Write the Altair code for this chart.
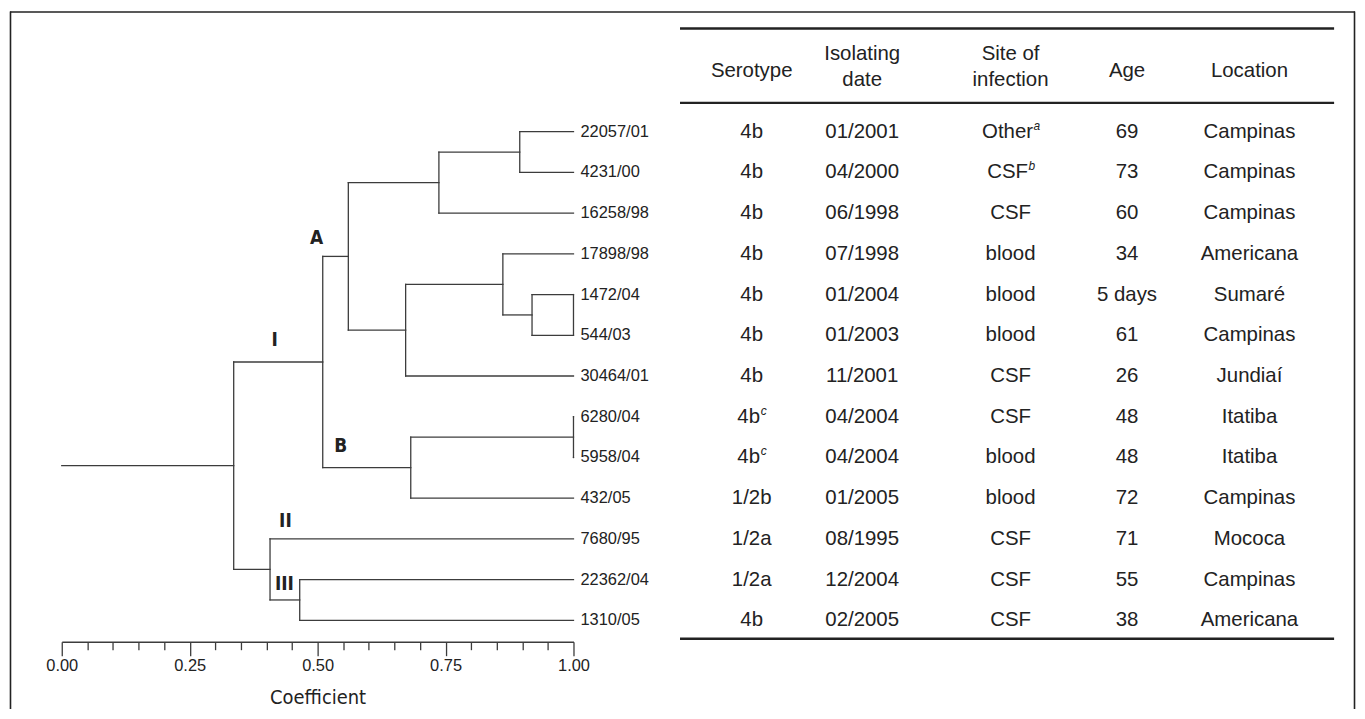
import altair as alt
import pandas as pd

# ---------------- data ----------------
LEAVES = ["22057/01", "4231/00", "16258/98", "17898/98", "1472/04", "544/03",
          "30464/01", "6280/04", "5958/04", "432/05", "7680/95", "22362/04", "1310/05"]

# merges (left child, right child, coefficient); ids >= 13 refer to earlier merges
MERGES = [
    (0, 1, 0.895),
    (13, 2, 0.737),
    (4, 5, 0.919),
    (3, 15, 0.862),
    (16, 6, 0.672),
    (14, 17, 0.560),
    (7, 8, 1.000),
    (19, 9, 0.682),
    (18, 20, 0.510),
    (11, 12, 0.465),
    (10, 22, 0.407),
    (21, 23, 0.336),
]
ROOT_START = 0.0
LEAF_COEF = 1.0

CLUSTERS = ["A", "I", "B", "II", "III"]
CLUSTER_X = [0.498, 0.416, 0.545, 0.437, 0.435]
CLUSTER_Y = [2.61, 5.12, 7.72, 9.56, 11.12]

HEADERS = ["Serotype", "Isolating\ndate", "Site of\ninfection", "Age", "Location"]
SEROTYPE = ["4b", "4b", "4b", "4b", "4b", "4b", "4b", "4b", "4b", "1/2b", "1/2a", "1/2a", "4b"]
SEROTYPE_SUP = ["", "", "", "", "", "", "", "c", "c", "", "", "", ""]
DATE = ["01/2001", "04/2000", "06/1998", "07/1998", "01/2004", "01/2003", "11/2001",
        "04/2004", "04/2004", "01/2005", "08/1995", "12/2004", "02/2005"]
SITE = ["Other", "CSF", "CSF", "blood", "blood", "blood", "CSF", "CSF", "blood",
        "blood", "CSF", "CSF", "CSF"]
SITE_SUP = ["a", "b", "", "", "", "", "", "", "", "", "", "", ""]
AGE = ["69", "73", "60", "34", "5 days", "61", "26", "48", "48", "72", "71", "55", "38"]
LOCATION = ["Campinas", "Campinas", "Campinas", "Americana", "Sumaré", "Campinas", "Jundiaí",
            "Itatiba", "Itatiba", "Campinas", "Mococa", "Campinas", "Americana"]

AXIS_TICKS = [0.00, 0.05, 0.10, 0.15, 0.20, 0.25, 0.30, 0.35, 0.40, 0.45, 0.50,
              0.55, 0.60, 0.65, 0.70, 0.75, 0.80, 0.85, 0.90, 0.95, 1.00]

# ---------------- layout / style ----------------
W, H = 1351, 633
NARROW = "DejaVu Sans Condensed, Liberation Sans, sans-serif"
SANS = "Liberation Sans, Arial, Helvetica, sans-serif"
INK = "#222222"
LINE = "#3c3c3c"
Y_SCALE = alt.Scale(domain=[-2.951, 12.526], reverse=True, zero=False, nice=False)
X_DENDRO = alt.Scale(domain=[0, 1], range=[52, 566], zero=False, nice=False)
COL_RANGE = [745, 856, 1005, 1122, 1245]
X_TABLE = alt.Scale(domain=[0, 1, 2, 3, 4], range=COL_RANGE, zero=False, nice=False)
TABLE_X1, TABLE_X2 = 673, 1330
HEADER_ROW_1LINE, HEADER_ROW_2LINE = -1.50, -1.91

# ---------------- dendrogram segments ----------------
pos = {i: (LEAF_COEF, float(i)) for i in range(len(LEAVES))}
segs = []
for k, (a, b, c) in enumerate(MERGES):
    xa, ya = pos[a]
    xb, yb = pos[b]
    segs.append(dict(x=c, x2=c, y=ya, y2=yb))
    segs.append(dict(x=c, x2=xa, y=ya, y2=ya))
    segs.append(dict(x=c, x2=xb, y=yb, y2=yb))
    pos[len(LEAVES) + k] = (c, (ya + yb) / 2)
root = pos[len(LEAVES) + len(MERGES) - 1]
segs.append(dict(x=ROOT_START, x2=root[0], y=root[1], y2=root[1]))
# closing bar drawn at the tips of 1472/04 and 544/03
segs.append(dict(x=LEAF_COEF, x2=LEAF_COEF, y=4.0, y2=5.0))
seg_df = pd.DataFrame(segs)

leaf_df = pd.DataFrame({"name": LEAVES, "row": list(range(len(LEAVES))),
                        "coef": [LEAF_COEF] * len(LEAVES)})
clu_df = pd.DataFrame({"label": CLUSTERS, "coef": CLUSTER_X, "row": CLUSTER_Y})

MAJOR = "abs(datum.value*4 - round(datum.value*4)) < 0.001"
x_axis = alt.Axis(
    values=AXIS_TICKS, title="Coefficient", grid=False,
    domain=True, ticks=True, labels=True,
    labelExpr=f"{MAJOR} ? format(datum.value, '.2f') : ''",
    tickSize={"condition": {"test": MAJOR, "value": 14}, "value": 8},
    domainColor=LINE, tickColor=LINE, domainWidth=1.3, tickWidth=1.3,
    labelFont=SANS, labelFontSize=16.5, labelColor=INK, labelPadding=2,
    labelOverlap=False, labelFlush=False,
    titleFont=NARROW, titleFontSize=20, titleFontWeight="normal", titleColor=INK,
    titlePadding=14,
)

segments = alt.Chart(seg_df).mark_rule(color=LINE, strokeWidth=1.3, strokeCap="square").encode(
    x=alt.X("x:Q", scale=X_DENDRO, axis=x_axis),
    x2="x2:Q",
    y=alt.Y("y:Q", scale=Y_SCALE, axis=None),
    y2="y2:Q",
)
leaf_labels = alt.Chart(leaf_df).mark_text(
    align="left", baseline="middle", dx=7, font=SANS, fontSize=16.5, color=INK
).encode(
    x=alt.X("coef:Q", scale=X_DENDRO),
    y=alt.Y("row:Q", scale=Y_SCALE, axis=None),
    text="name:N",
)
cluster_labels = alt.Chart(clu_df).mark_text(
    align="center", baseline="middle", font=NARROW, fontSize=19, fontWeight="bold", color=INK
).encode(
    x=alt.X("coef:Q", scale=X_DENDRO),
    y=alt.Y("row:Q", scale=Y_SCALE, axis=None),
    text="label:N",
)
dendro = alt.layer(segments, leaf_labels, cluster_labels)

# ---------------- table ----------------
cells = []
columns = [SEROTYPE, DATE, SITE, AGE, LOCATION]
sups = [SEROTYPE_SUP, None, SITE_SUP, None, None]
for ci, col in enumerate(columns):
    for ri, val in enumerate(col):
        s = sups[ci][ri] if sups[ci] is not None else ""
        cells.append(dict(col=ci, row=ri, text=val, sup=s))
cell_df = pd.DataFrame(cells)
head_df = pd.DataFrame({
    "col": list(range(5)),
    "row": [HEADER_ROW_2LINE if "\n" in h else HEADER_ROW_1LINE for h in HEADERS],
    "text": [h.split("\n") for h in HEADERS],
})

def text_layer(df, **kw):
    base = dict(align="center", baseline="middle", font=SANS, fontSize=20.5, color=INK)
    base.update(kw)
    return alt.Chart(df).mark_text(**base).encode(
        x=alt.X("col:Q", scale=X_TABLE, axis=None),
        y=alt.Y("row:Q", scale=Y_SCALE, axis=None),
        text="text:N",
    )

plain = text_layer(cell_df[cell_df["sup"] == ""])
headers = text_layer(head_df, lineHeight=26.5)
SUP_DX = {"Other": 23, "CSF": 18, "4b": 9}
sup_layers = []
for base_text, dx in SUP_DX.items():
    sub = cell_df[(cell_df["sup"] != "") & (cell_df["text"] == base_text)]
    if len(sub) == 0:
        continue
    sup_layers.append(text_layer(sub, dx=-3))
    sup_layers.append(
        alt.Chart(sub).mark_text(align="left", baseline="middle", dx=dx, dy=-6,
                                 font=SANS, fontSize=12, fontStyle="italic", color=INK).encode(
            x=alt.X("col:Q", scale=X_TABLE, axis=None),
            y=alt.Y("row:Q", scale=Y_SCALE, axis=None),
            text="sup:N",
        )
    )
table = alt.layer(plain, headers, *sup_layers)

# ---------------- decorations (frame + table rules) ----------------
dummy = pd.DataFrame({"k": [0]})
def hrule(y, x1, x2, w, color=INK):
    return alt.Chart(dummy).mark_rule(color=color, strokeWidth=w).encode(
        x=alt.value(x1), x2=alt.value(x2), y=alt.value(y))
def vrule(x, y1, y2, w, color=INK):
    return alt.Chart(dummy).mark_rule(color=color, strokeWidth=w).encode(
        x=alt.value(x), y=alt.value(y1), y2=alt.value(y2))

deco = alt.layer(
    hrule(0.5, 0, W, 1.6),
    vrule(0.5, 0, 720, 1.6),
    vrule(W - 0.5, 0, 720, 1.6),
    hrule(17, TABLE_X1, TABLE_X2, 2.4),
    hrule(91.7, TABLE_X1, TABLE_X2, 2.4),
    hrule(630, TABLE_X1, TABLE_X2, 2.4),
)

chart = alt.layer(dendro, table, deco).resolve_scale(x="independent").properties(
    width=W, height=H,
    padding={"left": 2, "top": 2, "right": 2, "bottom": 66},
    autosize=alt.AutoSizeParams(type="none"),
).configure_view(stroke=None).configure_axis(
    domain=False, ticks=False, labels=False, grid=False
)

chart.save("out.html", embed_options={"renderer": "svg", "actions": False})
